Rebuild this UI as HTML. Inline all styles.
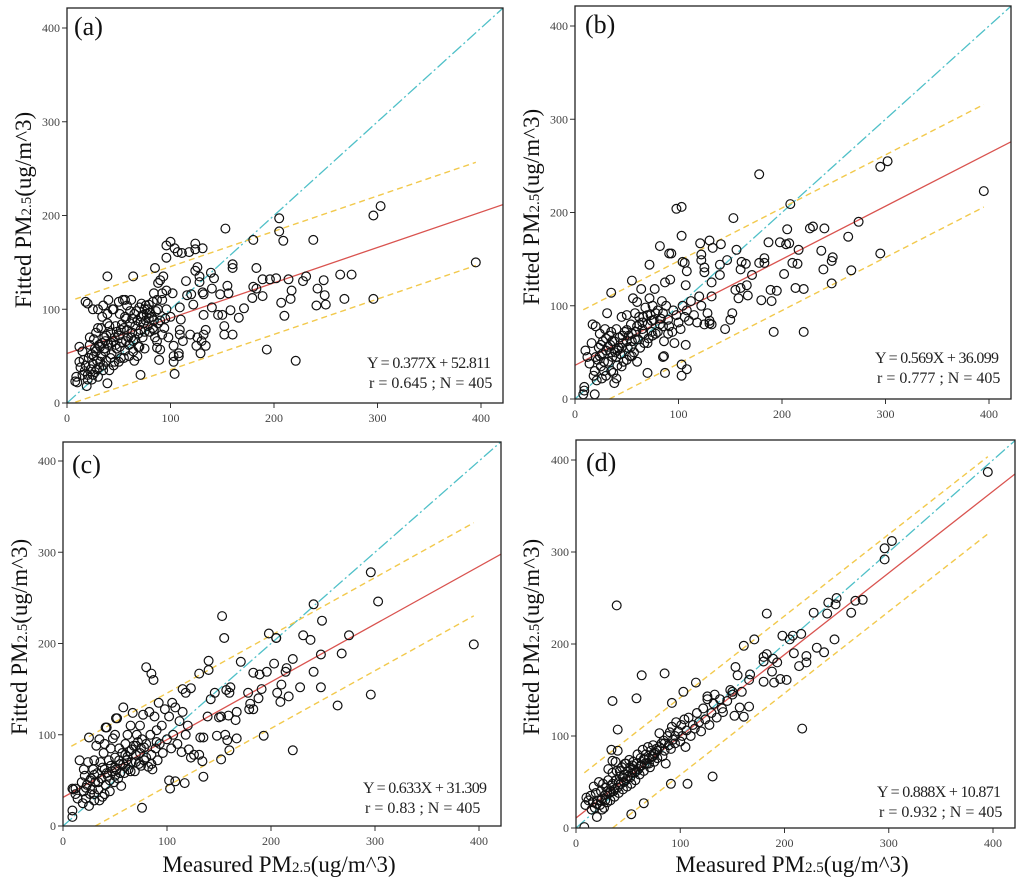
<!DOCTYPE html>
<html><head><meta charset="utf-8"><style>
body{margin:0;background:#fff}
svg{display:block}
svg text{font-family:"Liberation Serif","Times New Roman",serif}
</style></head><body>
<svg id="fig" width="1024" height="882" viewBox="0 0 1024 882" xmlns="http://www.w3.org/2000/svg" font-family="Liberation Serif, serif"></svg>
<script>
// ---- Data ----
const ticks = [0, 100, 200, 300, 400];
const panelLabels = ["(a)", "(b)", "(c)", "(d)"];
const slopes = [0.377, 0.569, 0.633, 0.888];
const intercepts = [52.811, 36.099, 31.309, 10.871];
const ciHalf = [55, 55, 51, 42];
const rValues = ["0.645", "0.777", "0.83", "0.932"];
const nValues = [405, 405, 405, 405];

const pointsA = [[303,210],[296,200],[395,150],[296,111],[238,174],[205,197],[205,183],[209,173],[180,174],[153,186],[183,144],[160,148],[160,144],[189,132],[214,132],[228,130],[231,135],[248,131],[264,137],[275,137],[268,111],[241,104],[250,105],[249,115],[242,122],[217,120],[216,111],[207,107],[210,93],[193,57],[221,45],[196,132],[202,133],[180,124],[183,122],[189,114],[179,112],[171,101],[166,91],[160,73],[152,73],[152,82],[146,94],[150,94],[158,99],[155,125],[148,116],[156,117],[139,139],[142,133],[140,122],[140,102],[104,31],[71,30],[39,21],[39,135],[64,135],[85,144],[96,168],[100,172],[96,155],[104,165],[107,161],[111,160],[118,161],[124,170],[124,164],[131,165],[126,145],[124,141],[128,135],[128,129],[131,118],[132,116],[132,94],[134,78],[132,73],[130,66],[129,53],[134,61],[125,61],[126,70],[119,73],[122,105],[120,116],[116,115],[115,130],[109,102],[110,89],[109,78],[109,73],[112,66],[103,61],[103,50],[108,50],[108,53],[103,44],[102,117],[96,120],[93,135],[90,131],[88,128],[92,117],[87,110],[84,117],[84,78],[87,66],[87,59],[90,57],[89,46],[92,73],[80,96],
[8,23],[9,28],[10,22],[12,44],[13,38],[12,60],[15,55],[17,34],[18,40],[19,18],[20,30],[21,48],[22,62],[23,36],[24,25],[25,42],[26,68],[27,33],[28,55],[29,45],[30,80],[31,38],[32,60],[33,50],[34,92],[35,40],[36,70],[37,55],[38,45],[39,85],[40,62],[41,35],[42,75],[43,52],[44,100],[45,66],[46,44],[47,82],[48,58],[50,72],[51,95],[52,48],[53,65],[54,110],[55,80],[56,56],[57,90],[58,104],[59,70],[60,62],[61,85],[62,110],[63,75],[64,55],[65,95],[66,68],[68,88],[69,60],[70,102],[71,78],[72,92],[73,70],[74,85],[75,100],[76,88],[77,95],[78,82],[79,105],[80,76],[82,92],[83,108],[85,70],[86,98],[88,85],[90,88],[92,110],[94,80],[96,100],[98,70],[100,92],[18,108],[20,106],[25,100],[30,100],[35,104],[40,110],[22,70],[28,75],[33,80],[15,30],[20,25],[25,30],[30,28],[35,35],[45,40],[50,44],[55,48],[60,50],[26,50],[31,62],[36,58],[43,64],[48,76],[53,84],[58,78],[63,90],[67,98],[72,106],[76,104],[80,96],[45,100],[50,108],[56,110],[39,95],[70,60],[75,58],[68,50],[65,45],
[16,46],[24,52],[29,36],[34,64],[38,72],[42,48],[47,62],[52,78],[57,66],[62,70],[66,82],[71,86],[75,76],[79,90],[84,88],[27,58],[32,44],[37,66],[41,82],[46,70],[51,60],[56,92],[61,98],[64,66],[69,74],[74,94],[78,100],[83,80],[88,100],[95,90]];

const pointsB = [[395,223],[302,255],[295,249],[295,156],[274,190],[264,174],[267,138],[249,152],[248,148],[248,124],[241,183],[240,139],[238,159],[230,185],[227,183],[221,118],[221,72],[216,160],[215,145],[213,119],[210,146],[208,209],[205,182],[207,167],[204,166],[202,134],[198,168],[195,116],[192,72],[190,105],[189,117],[187,168],[183,146],[183,151],[180,106],[178,146],[178,241],[171,133],[167,111],[166,122],[165,145],[161,147],[160,139],[160,119],[158,108],[156,160],[155,117],[153,194],[152,92],[150,85],[145,75],[147,149],[141,166],[140,144],[140,133],[133,162],[130,170],[132,125],[132,110],[130,81],[125,136],[122,149],[122,155],[121,167],[125,141],[103,206],[98,204],[103,175],[104,147],[106,146],[108,137],[107,122],[82,164],[91,156],[93,156],[87,125],[72,144],[35,114],[55,127],[103,25],[103,37],[108,32],[87,28],[70,28],[38,17],[19,5],[8,5],[9,13],[9,9],[107,58],[86,46],[85,45],
[10,52],[12,45],[14,38],[16,60],[17,80],[18,25],[19,30],[20,78],[21,20],[22,42],[23,55],[24,70],[25,35],[26,48],[27,62],[28,30],[29,75],[30,52],[31,92],[32,40],[33,68],[34,58],[35,72],[36,45],[37,28],[38,62],[39,50],[40,75],[41,36],[42,55],[43,66],[44,48],[45,88],[46,60],[47,40],[48,72],[50,90],[51,55],[52,68],[53,46],[54,80],[55,62],[56,108],[57,50],[58,92],[59,72],[60,104],[61,64],[62,80],[63,55],[64,118],[65,75],[66,88],[67,60],[68,98],[70,80],[71,65],[72,108],[73,90],[74,72],[75,100],[76,85],[77,118],[78,70],[80,95],[82,80],[84,105],[85,92],[86,62],[88,100],[90,85],[91,78],[92,128],[94,72],[95,95],[96,60],[98,90],[100,82],[102,75],[104,100],[106,88],[108,95],[110,84],[112,105],[115,90],[118,82],[120,110],[122,100],[125,80],[128,92],[130,84],[132,80],[26,22],[30,25],[35,30],[40,22],[45,35],[50,42],[55,46],[60,40],[20,45],[25,58],[30,65],[35,50],[40,45],[45,55],[50,62],[55,70],[60,78],[65,82],[70,90],[75,68],[80,72],[85,78],[90,70],
[24,46],[28,40],[32,56],[36,62],[41,52],[46,68],[50,74],[54,56],[58,64],[62,88],[66,70],[70,60],[74,84],[78,92],[83,86]];

const pointsC = [[395,199],[303,246],[296,278],[296,144],[275,209],[268,189],[264,132],[249,225],[248,152],[248,188],[241,243],[241,169],[238,204],[231,209],[228,152],[221,183],[221,83],[217,142],[215,173],[214,169],[210,155],[209,136],[206,146],[205,206],[205,206],[203,178],[198,211],[196,169],[193,99],[191,150],[188,140],[189,166],[183,168],[183,128],[179,128],[180,134],[178,146],[171,180],[167,125],[166,116],[167,96],[161,152],[160,146],[160,83],[159,121],[158,94],[157,149],[156,100],[155,206],[153,230],[152,73],[152,120],[150,119],[148,99],[146,146],[142,139],[140,181],[140,171],[139,120],[135,54],[134,71],[135,97],[132,97],[131,167],[131,78],[126,78],[123,75],[121,84],[117,47],[114,81],[118,146],[115,150],[123,151],[108,49],[103,41],[102,50],[80,174],[85,167],[87,160],[67,124],[58,130],[51,118],[41,108],[25,97],[76,20],[9,10],[9,17],[9,41],[12,41],
[10,40],[12,35],[14,30],[16,72],[18,48],[19,25],[20,38],[21,55],[22,30],[23,45],[24,70],[26,35],[27,52],[28,40],[29,62],[30,28],[31,48],[32,88],[33,58],[34,40],[35,95],[36,70],[37,52],[38,32],[39,80],[40,62],[41,45],[42,108],[43,55],[44,72],[45,38],[46,85],[47,60],[48,96],[49,48],[50,75],[51,62],[52,118],[53,52],[54,85],[55,68],[56,44],[57,80],[59,58],[60,90],[61,72],[62,100],[63,62],[64,82],[65,110],[66,70],[68,88],[69,60],[70,78],[71,100],[72,92],[73,68],[74,110],[75,85],[76,95],[77,122],[78,72],[80,90],[82,65],[83,125],[84,100],[85,78],[86,62],[88,120],[89,85],[90,105],[91,72],[92,135],[93,90],[95,110],[96,80],[98,128],[100,95],[102,120],[104,85],[105,135],[106,100],[108,130],[110,90],[112,115],[115,125],[118,100],[120,110],[25,22],[30,35],[35,28],[40,35],[45,50],[50,55],[55,58],[60,65],[65,60],[70,70],[75,66],[80,75],[85,68],[90,92],[20,62],[30,72],[40,90],[50,100],[60,78],
[22,42],[26,50],[30,56],[34,48],[38,64],[42,58],[46,66],[50,64],[54,72],[58,68],[62,76],[66,84],[70,88],[74,80],[78,86]];

const pointsD = [[395,387],[303,312],[296,304],[296,292],[275,248],[268,247],[264,234],[250,250],[249,243],[248,205],[242,245],[241,233],[238,191],[231,196],[228,234],[221,187],[221,180],[217,108],[216,211],[214,176],[209,190],[208,209],[205,205],[202,161],[198,209],[196,162],[193,180],[189,184],[190,158],[188,170],[183,233],[183,189],[180,186],[180,181],[180,159],[171,205],[167,167],[166,161],[166,132],[161,198],[161,121],[159,148],[157,131],[155,166],[153,175],[152,122],[150,148],[141,126],[133,145],[131,56],[126,143],[115,158],[103,148],[107,48],[91,48],[92,136],[85,168],[80,103],[63,166],[58,141],[40,107],[35,138],[39,242],[34,85],[40,84],[35,73],[31,64],[65,27],[53,15],[8,1],[9,25],
[10,33],[12,30],[14,35],[15,20],[16,28],[17,45],[18,22],[19,38],[20,12],[21,30],[22,50],[23,25],[24,40],[25,32],[26,48],[27,22],[28,36],[29,44],[30,28],[31,52],[32,38],[33,30],[34,46],[35,60],[36,40],[37,34],[38,52],[39,62],[40,44],[41,38],[42,56],[43,48],[44,66],[45,42],[46,58],[47,70],[48,52],[49,45],[50,62],[51,74],[52,55],[53,48],[54,68],[55,72],[56,60],[57,52],[58,70],[59,80],[60,64],[61,58],[62,76],[63,68],[64,85],[65,62],[66,74],[67,80],[68,70],[69,88],[70,76],[71,66],[72,84],[73,78],[74,90],[75,72],[76,82],[77,86],[78,76],[80,88],[82,92],[83,78],[84,95],[85,84],[86,70],[88,100],[89,90],[90,104],[91,86],[92,110],[93,96],[95,100],[96,115],[98,105],[100,94],[101,112],[102,100],[104,118],[105,88],[106,106],[108,120],[110,100],[112,112],[114,108],[116,125],[118,115],[120,105],[122,130],[124,118],[126,140],[128,112],[130,125],[132,135],[135,120],[138,140],[140,130],[145,138],[148,150],[150,145],[25,20],[30,40],[35,48],[45,55],[55,64],[65,75],[75,80],[85,92],[95,92],[38,72],[42,62],[48,70],[52,66],
[20,26],[24,30],[28,30],[33,40],[37,42],[41,50],[46,50],[50,56],[54,60],[58,62],[62,68],[66,70],[70,70],[74,78],[78,84]];
const allPoints = [pointsA, pointsB, pointsC, pointsD];

// ---- Layout ----
const frames = [
  {l:67, t:8, r:503, b:403, x0:67, x400:481, y0:403, y400:28, eqx:367, eqy:368, lx:74, ly:35, tx:23, ty:210, xt:false},
  {l:575, t:6, r:1011, b:399, x0:575, x400:989, y0:399, y400:26, eqx:875, eqy:363, lx:585, ly:33, tx:531, ty:207, xt:false},
  {l:63, t:442, r:501, b:826, x0:63, x400:479, y0:826, y400:461, eqx:363, eqy:793, lx:72, ly:473, tx:19, ty:637, xt:true, xtx:279},
  {l:576, t:440, r:1015, b:828, x0:576, x400:993, y0:828, y400:460, eqx:877, eqy:797, lx:586, ly:471, tx:531, ty:637, xt:true, xtx:792}
];
const NS = "http://www.w3.org/2000/svg";
const svg = document.getElementById("fig");
function mk(tag, attrs, parent){ const e=document.createElementNS(NS,tag); for(const k in attrs) e.setAttribute(k,attrs[k]); (parent||svg).appendChild(e); return e; }

frames.forEach((f, i) => {
  const sx = v => f.x0 + (f.x400 - f.x0) * v / 400;
  const sy = v => f.y0 + (f.y400 - f.y0) * v / 400;
  const xmax = (f.r - f.x0) / (f.x400 - f.x0) * 400;
  const g = mk("g", {});
  
  
  const clip = mk("clipPath", {id:"clip"+i}, g);
  mk("rect", {x:f.l, y:f.t, width:f.r-f.l, height:f.b-f.t}, clip);

  ticks.forEach(t => {
    mk("line", {x1:sx(t), y1:f.b, x2:sx(t), y2:f.b+5, stroke:"#333", "stroke-width":1}, g);
    const xl = mk("text", {x:sx(t), y:f.b+19, "text-anchor":"middle", "font-size":12, fill:"#444"}, g);
    xl.textContent = t;
    
    
    mk("line", {x1:f.l-5, y1:sy(t), x2:f.l, y2:sy(t), stroke:"#333", "stroke-width":1}, g);
    const yl = mk("text", {x:f.l-7, y:sy(t)+4, "text-anchor":"end", "font-size":12, fill:"#444"}, g);
    yl.textContent = t;
    
    
  });

  const lines = mk("g", {"clip-path":"url(#clip"+i+")"}, g);
  const id = mk("line", {x1:sx(0), y1:sy(0), x2:sx(xmax), y2:sy(xmax), stroke:"#4fc0c8", "stroke-width":1.3, "stroke-dasharray":"12,3,2,3"}, lines);
  
  
  [1, -1].forEach(s => {
    let xa = 8;
    let ya = slopes[i]*xa + intercepts[i] + s*ciHalf[i];
    if (ya < 0) { xa = (-(intercepts[i] + s*ciHalf[i])) / slopes[i]; ya = 0; }
    const xb = 395, yb = slopes[i]*xb + intercepts[i] + s*ciHalf[i];
    const c = mk("line", {x1:sx(xa), y1:sy(ya), x2:sx(xb), y2:sy(yb), stroke:"#f2c94c", "stroke-width":1.4, "stroke-dasharray":"6,4"}, lines);
    
    
  });
  const rl = mk("line", {x1:sx(0), y1:sy(intercepts[i]), x2:sx(xmax), y2:sy(slopes[i]*xmax+intercepts[i]), stroke:"#d9534f", "stroke-width":1.3}, lines);
  
  

  const pg = mk("g", {fill:"none", stroke:"#111", "stroke-width":1.2, "clip-path":"url(#clip"+i+")"}, g);
  allPoints[i].forEach(p => {
    const c = mk("circle", {cx:sx(p[0]).toFixed(1), cy:sy(p[1]).toFixed(1), r:4.4}, pg);
    
    
  });

  const fr = mk("rect", {x:f.l, y:f.t, width:f.r-f.l, height:f.b-f.t, fill:"none", stroke:"#222", "stroke-width":1.3}, g);
  
  

  const pl = mk("text", {x:f.lx, y:f.ly, "font-size":26, fill:"#111"}, g);
  pl.textContent = panelLabels[i];
  
  

  const e1 = mk("text", {x:f.eqx, y:f.eqy, "font-size":16, fill:"#222", textLength:124}, g);
  e1.textContent = "Y = " + slopes[i].toFixed(3) + "X + " + intercepts[i].toFixed(3);
  
  
  const e2 = mk("text", {x:f.eqx+2, y:f.eqy+20, "font-size":16, fill:"#222"}, g);
  e2.textContent = "r = " + rValues[i] + " ; N = " + nValues[i];
  
  

  const yt = mk("text", {x:f.tx, y:f.ty, "font-size":23, fill:"#111", "text-anchor":"middle", transform:"rotate(-90 "+f.tx+" "+f.ty+")", dy:"8"}, g);
  yt.innerHTML = 'Fitted PM<tspan font-size="15">2.5</tspan>(ug/m^3)';
  
  

  if (f.xt) {
    const xt = mk("text", {x:f.xtx, y:872, "font-size":23, fill:"#111", "text-anchor":"middle"}, g);
    xt.innerHTML = 'Measured  PM<tspan font-size="15">2.5</tspan>(ug/m^3)';
    
    
  }
});
</script>
</body></html>
